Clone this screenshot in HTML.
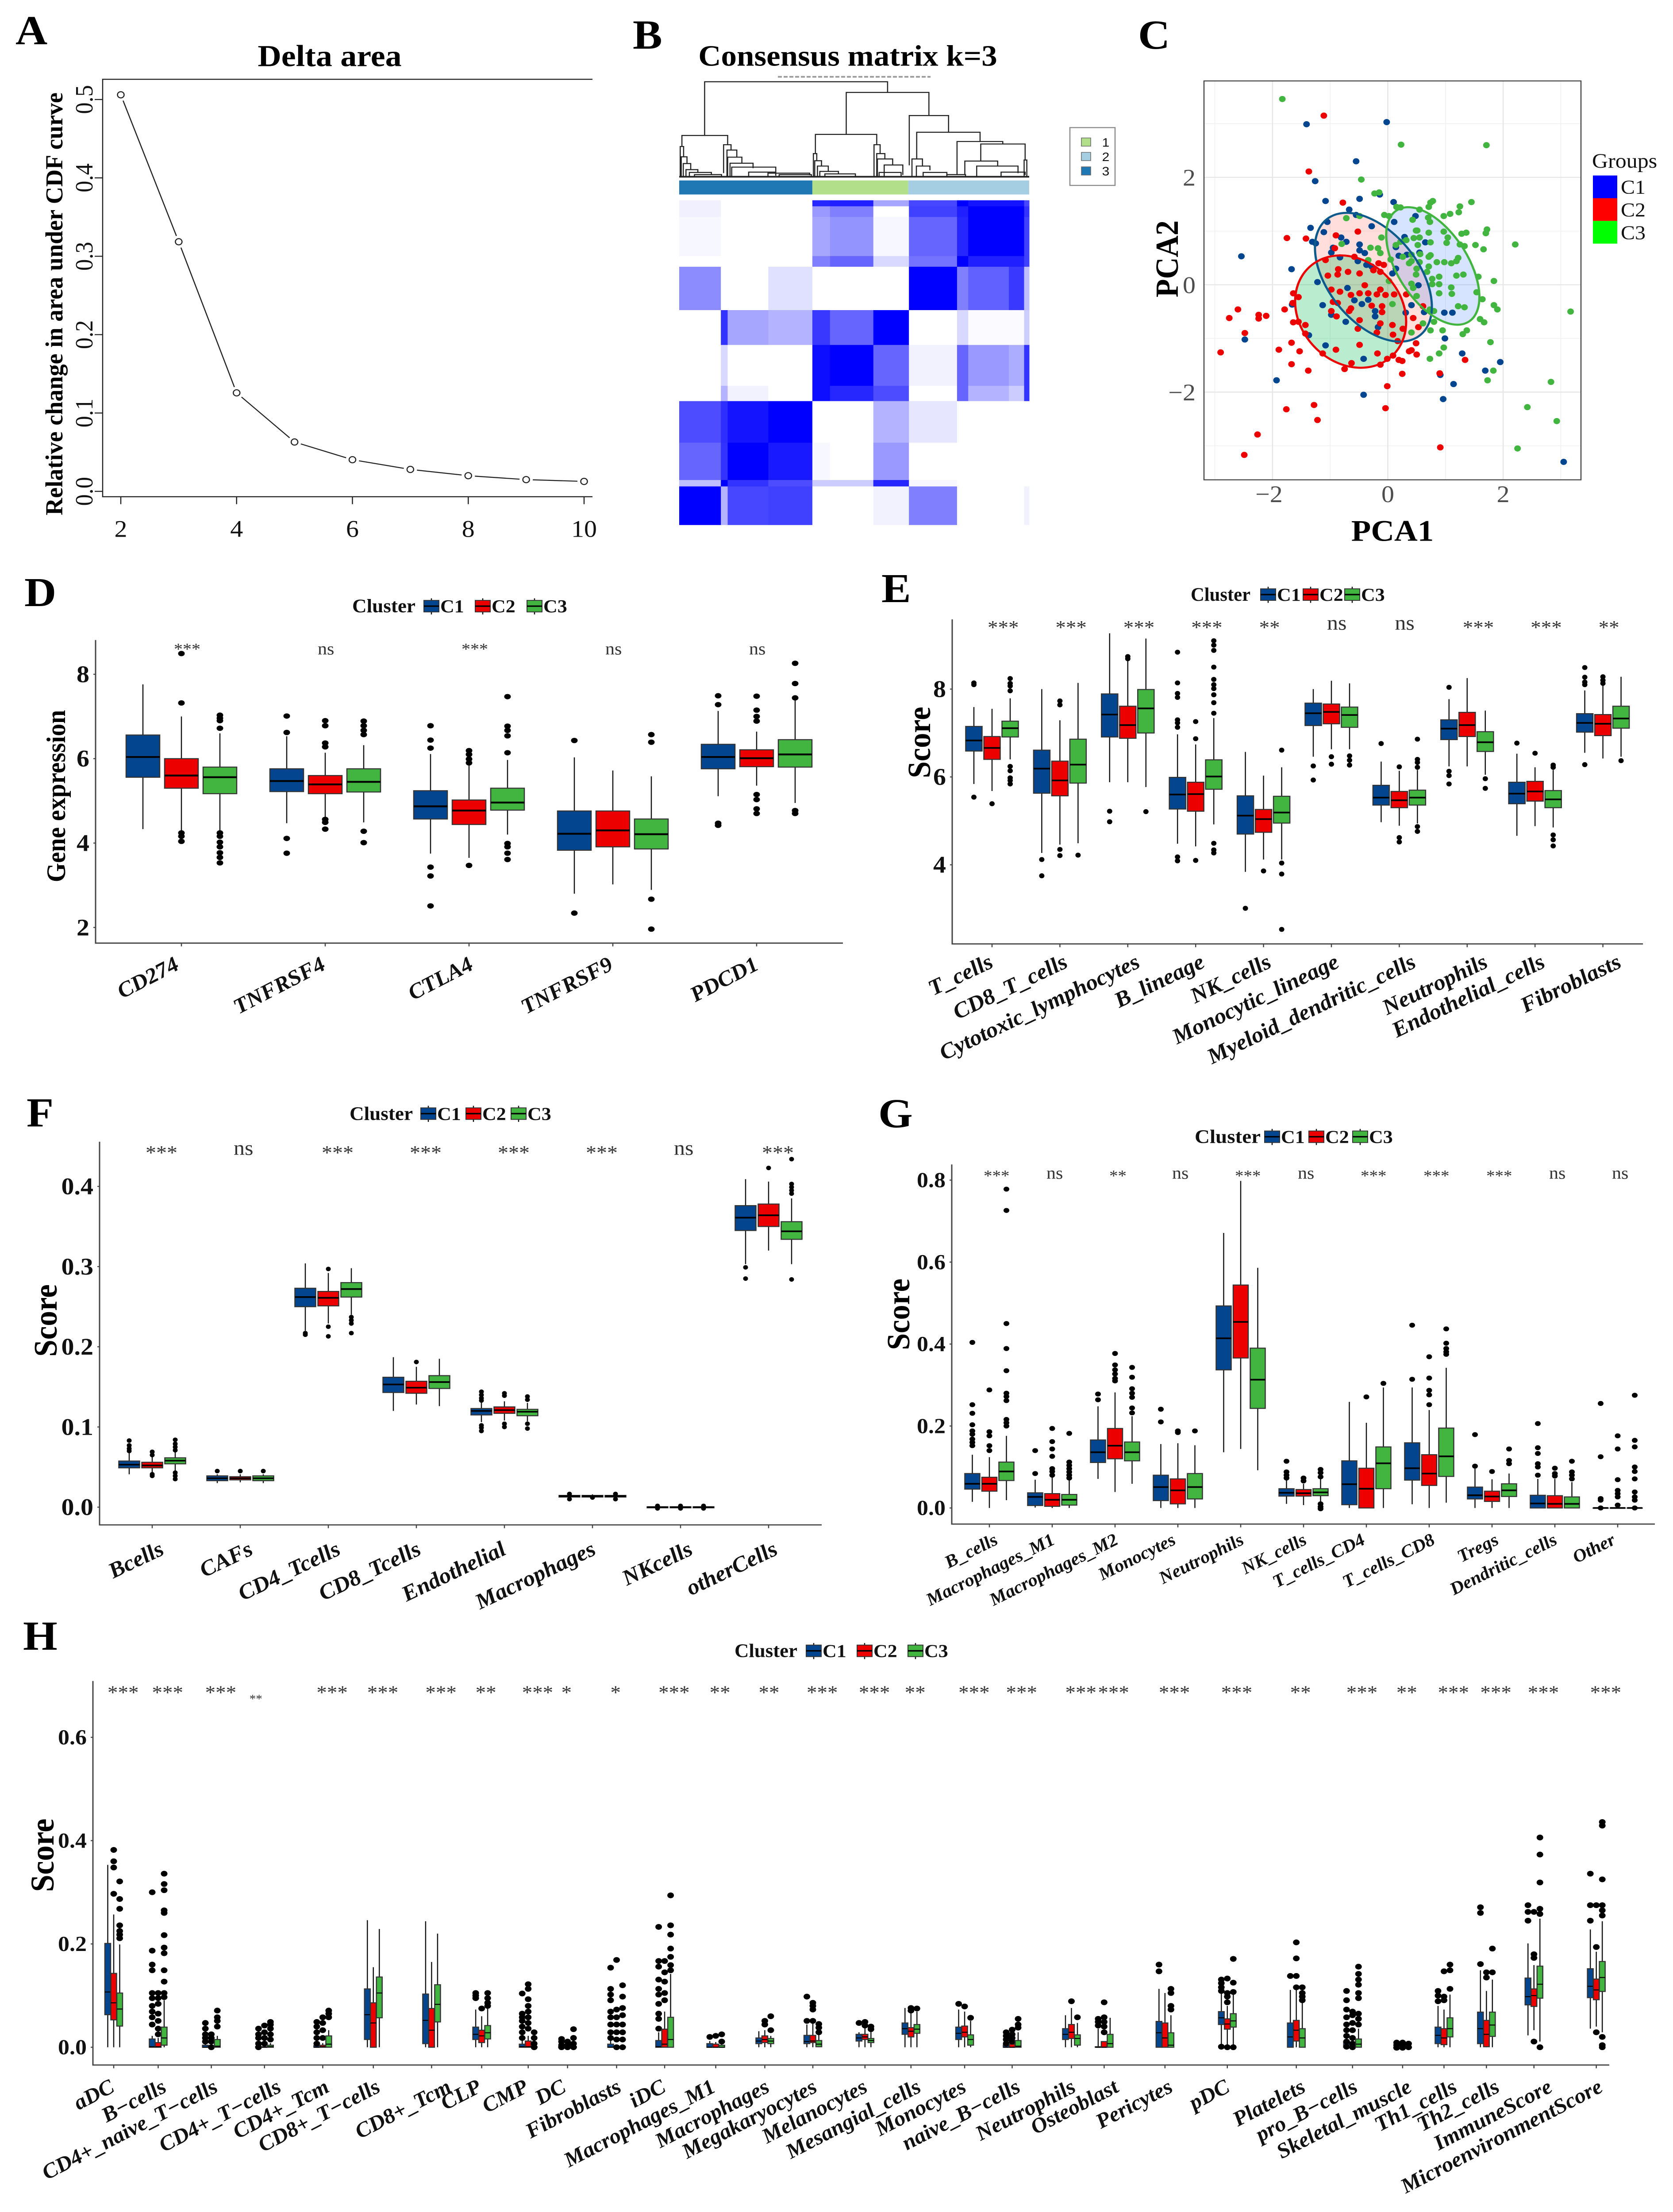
<!DOCTYPE html>
<html lang="en">
<head>
<meta charset="utf-8">
<title>Consensus clustering and immune infiltration figure</title>
<style>
html,body{margin:0;padding:0;background:#fff}
svg{display:block}
text{font-family:"Liberation Serif",serif}
.lab{font-weight:bold;font-size:100px;fill:#000}
.ttl{font-weight:bold;fill:#000}
</style>
</head>
<body>
<svg id="figure" xmlns="http://www.w3.org/2000/svg" width="3781" height="5357" viewBox="0 0 3781 5357" preserveAspectRatio="none">
<rect width="3781" height="5357" fill="#fff"/>
<text class="lab" x="35" y="107">A</text>
<text class="lab" x="1430" y="118">B</text>
<text class="lab" x="2572" y="118">C</text>
<text class="lab" x="55" y="1468">D</text>
<text class="lab" x="1992" y="1458">E</text>
<text class="lab" x="60" y="2728">F</text>
<text class="lab" x="1985" y="2730">G</text>
<text class="lab" x="52" y="3995">H</text>

<text class="ttl" x="745" y="160" text-anchor="middle" font-size="74">Delta area</text>
<text class="ttl" transform="translate(141,736) rotate(-90)" text-anchor="middle" font-size="55" textLength="1024" lengthAdjust="spacingAndGlyphs">Relative change in area under CDF curve</text>
<text class="ttl" x="1916" y="159" text-anchor="middle" font-size="71">Consensus matrix k=3</text>
<line x1="1758" y1="186" x2="2103" y2="186" stroke="#999" stroke-width="4" stroke-dasharray="9 4"/>
<text class="ttl" x="3147" y="1310" text-anchor="middle" font-size="73">PCA1</text>
<text class="ttl" transform="translate(2662,627) rotate(-90)" text-anchor="middle" font-size="73">PCA2</text>
<text x="3598" y="406" font-size="50" fill="#111">Groups</text>

<text class="ttl" transform="translate(147,1928) rotate(-90)" text-anchor="middle" font-size="60">Gene expression</text>
<text class="ttl" transform="translate(2102,1798) rotate(-90)" text-anchor="middle" font-size="73">Score</text>
<text class="ttl" transform="translate(128,3198) rotate(-90)" text-anchor="middle" font-size="74">Score</text>
<text class="ttl" transform="translate(2055,3183) rotate(-90)" text-anchor="middle" font-size="73">Score</text>
<text class="ttl" transform="translate(121,4493) rotate(-90)" text-anchor="middle" font-size="75">Score</text>
</svg>

<script>
/* ---------- Panel A data ---------- */
const deltaK = [2,3,4,5,6,7,8,9,10];
const deltaArea = [0.506,0.3185,0.1257,0.063,0.0404,0.028,0.02,0.015,0.0127];
const deltaXTicks = [2,4,6,8,10];
const deltaYTicks = ['0.0','0.1','0.2','0.3','0.4','0.5'];

/* ---------- Panel B data ---------- */
const matrixColSizes = [123,20,120,130,52,128,105,142,33,120,45,15];
const matrixRowSizes = [17,30,110,30,122,98,115,43,117,105,18,108];
const matrixValues = [
 [.06,0,0,0,.85,.88,.35,.72,1,.92,.92,.72],
 [.06,0,0,0,.4,.5,0,.75,.88,1,1,.8],
 [.03,0,0,0,.35,.42,.03,.6,.85,1,1,.75],
 [0,0,0,0,.5,.6,.15,.55,1,.88,.88,.75],
 [.45,0,0,.12,0,0,0,1,.5,.62,.78,.25],
 [0,.8,.35,.3,.78,.6,1,0,.15,.02,.02,.2],
 [0,.15,0,0,.95,1,.6,.05,.6,.4,.32,.8],
 [0,.3,.05,0,.95,.85,.7,0,.6,.3,.2,.8],
 [.7,.82,.92,1,0,0,.3,.1,0,0,0,0],
 [.6,.8,1,.9,.03,0,.4,0,0,0,0,0],
 [.25,1,.8,.7,.2,.2,.85,.03,0,0,0,0],
 [1,.3,.72,.75,0,0,.05,.5,0,0,0,.05]
];
const clusterBarSizes = [393,283,357];
const clusterBarColors = ['#1f78b4','#b2df8a','#a6cee3'];
const clusterLegendLabels = ['1','2','3'];
const clusterLegendColors = ['#b2df8a','#a6cee3','#1f78b4'];
/* leaf-left, leaf-right, height, left-child height, right-child height */
const dendroMerges = [
 [75,615,267,116,237],[493,737,237,119,172],[679,795,172,32,125],[701,888,125,50,99],[820,955,99,7,92],[890,1021,92,44,47],
 [8,143,116,85,90],[3,13,85,0,56],[6,23,56,0,37],[12,34,37,0,20],[20,55,20,0,12],[30,95,12,0,6],[45,125,6,0,0],
 [131,153,90,10,75],[141,170,75,0,55],[143,185,55,0,38],[150,218,38,0,24],[155,285,27,0,12],[205,285,13,0,3],[262,385,10,0,4],[295,390,6,0,0],
 [402,583,119,65,90],[396,406,65,0,45],[400,420,45,0,30],[408,440,30,0,15],[415,470,15,0,8],[430,520,8,0,0],
 [575,593,90,0,65],[583,607,65,0,50],[585,630,50,0,33],[605,660,33,0,5],[590,655,12,0,0],
 [687,718,50,0,30],[700,740,30,0,18],[720,790,12,0,3],[843,940,44,6,30],[878,1000,30,0,10],[950,1021,13,0,5],[1018,1026,47,0,0],[790,845,6,0,0]
];

/* ---------- Panel C data (PCA units) ---------- */
const pcaGroupC1 = [[-1.41,2.99],[-.02,3.03],[-.55,2.3],[-1.26,1.93],[-1.08,1.56],[-.49,1.6],[-.14,1.68],[.1,1.54],[-.67,1.4],[-.55,1.3],[.48,1.28],[-1.05,1.17],[.11,1.17],[-1.34,1.06],[-.28,1.09],[-1.11,.98],[-1.31,.8],[-1.25,.77],[-.81,.88],[-.72,.8],[-.95,.69],[-.98,.6],[-.83,.51],[-.49,.75],[-.49,.64],[-.4,.59],[-.52,.44],[-.37,.37],[-.28,.34],[-2.54,.53],[-1.67,.29],[.29,.89],[.14,.7],[.19,.54],[.33,.56],[.65,.79],[.55,.6],[.14,.3],[.08,.21],[-1.22,.05],[-.7,-.06],[-.13,-.09],[-.58,-.29],[-.45,-.36],[-.34,-.28],[-.22,-.49],[-.22,-.59],[-1.13,-.38],[-1.66,-.37],[-.98,-.56],[-.73,-.69],[-.17,-.79],[.31,-.52],[.41,-.38],[.53,-.01],[.63,-.51],[.98,-.52],[1.12,-.52],[-1.37,-.94],[-2.48,-1.02],[-1.08,-1.13],[.99,-1],[1.29,-1.28],[1.95,-1.44],[1.69,-1.6],[-.42,-1.38],[.91,-1.68],[1.14,-1.85],[-1.93,-1.78],[-.42,-2.05],[.96,-2.13],[3.05,-3.3]];
const pcaGroupC2 = [[-1.11,3.15],[-1.37,2.11],[-.78,1.53],[-.52,.99],[-1.75,.87],[-1.42,.86],[-.9,.92],[-.92,.68],[-1.08,.46],[-.58,.52],[-.16,.4],[-.07,.37],[-.86,.29],[-.87,.19],[-1.04,.17],[-.69,.24],[-.49,.21],[-.25,.27],[-.13,.24],[-.98,-.09],[-.83,-.13],[-.64,-.19],[-.49,-.16],[-.4,-.01],[-.34,-.16],[-.19,-.18],[-.04,-.19],[.11,-.18],[-.13,-.09],[.32,-.18],[-.95,-.32],[-.87,-.34],[-.64,-.44],[-.28,-.39],[-.1,-.4],[-.1,-.51],[-.98,-.49],[-.89,-.59],[-.67,-.49],[-.49,-.66],[-.52,-.82],[-.19,-.89],[-.13,-.72],[.08,-.75],[.26,-.82],[.09,-.93],[.44,-.62],[.53,-.79],[.61,-.4],[-1.64,-.16],[-1.55,-.23],[-1.65,-.34],[-1.79,-.46],[-2.6,-.46],[-2.75,-.62],[-2.24,-.56],[-2.24,-.63],[-2.11,-.58],[-1.64,-.7],[-1.55,-.69],[-1.43,-.75],[-2.48,-.9],[-1.43,-.91],[-2.9,-1.26],[-1.67,-1.08],[-1.89,-1.21],[-1.53,-1.24],[-1.13,-1.28],[-.9,-1.21],[-1.67,-1.48],[-1.38,-1.6],[-.75,-1.57],[-.63,-1.46],[-.49,-1.12],[-.18,-1.28],[-.13,-1.49],[-.01,-1.38],[.09,-1.32],[.17,-1.05],[.49,-1.09],[.41,-1.22],[.5,-1.3],[.37,-1.24],[.19,-1.4],[.25,-1.42],[1.34,-1.4],[.25,-1.66],[.9,-1.65],[-.01,-1.89],[-1.28,-2.24],[-1.76,-2.32],[-.04,-2.3],[-1.22,-2.52],[-2.26,-2.79],[.91,-3.03],[-2.49,-3.17]];
const pcaGroupC3 = [[-1.83,3.46],[.23,2.61],[1.71,2.6],[-.46,1.96],[-.23,1.7],[-.15,1.72],[.15,1.45],[.22,1.44],[.71,1.45],[.74,1.53],[.78,1.56],[1.45,1.54],[1.25,1.46],[1.23,1.35],[.55,1.4],[-.06,1.3],[.02,1.28],[.97,1.28],[1.08,1.32],[-.72,1.24],[-.49,1.28],[.43,1.21],[.7,1.25],[.73,1.17],[1.72,1.03],[1.7,.96],[1.28,.95],[1.36,.97],[.97,.99],[1.04,.88],[1.02,.78],[.49,1.01],[.51,1.01],[.45,.87],[.55,.88],[.71,.97],[-.11,.88],[.32,.83],[.22,.8],[.14,.74],[.52,.74],[.74,.79],[1.25,.75],[1.33,.72],[1.52,.74],[1.66,.66],[2.21,.75],[-.3,.69],[-.13,.59],[-.17,.68],[-.8,.76],[.26,.52],[.41,.56],[.56,.57],[.71,.52],[.74,.55],[1.22,.5],[1.19,.44],[1.1,.4],[.98,.42],[.85,.42],[.37,.4],[.41,.44],[.55,.42],[-.34,.46],[.05,.47],[.71,.34],[.5,.3],[.49,.19],[.68,.24],[.77,.11],[.89,.15],[1.19,.17],[1.31,.19],[1.57,.15],[.02,.07],[.41,.02],[.44,-.06],[.77,.01],[.89,.01],[1.1,-.05],[1.84,.07],[1.54,-.14],[1.11,-.17],[.5,-.21],[.89,-.16],[.08,-.36],[1.64,-.27],[1.84,-.38],[1.9,-.46],[.73,-.46],[.8,-.49],[1.22,-.4],[1.33,-.42],[1.6,-.64],[1.67,-.7],[.8,-.69],[.61,-.72],[.74,-.85],[.95,-.85],[.41,-.89],[1.37,-.85],[1.3,-.92],[1.78,-1.07],[.97,-1.17],[.89,-1.28],[.73,-1.38],[1.83,-1.6],[1.73,-1.78],[3.17,-.5],[2.83,-1.81],[2.42,-2.28],[2.93,-2.54],[2.25,-3.05]];
/* centre x, centre y, semi-major, semi-minor, angle in degrees */
const pcaEllipseC1 = [-.25,.14,1.35,.8,-55];
const pcaEllipseC2 = [-.645,-.5,1.1,.9,-57];
const pcaEllipseC3 = [.78,.35,1.21,.62,-60];
const pcaMajorTicks = [-2,0,2];
const pcaMinorTicks = [-3,-1,1,3];
const pcaLegendLabels = ['C1','C2','C3'];
const pcaLegendColors = ['#0000ff','#ff0000','#00ff00'];

/* ---------- Panel D data: each box [low, q1, median, q3, high] ---------- */
const dCategories = ['CD274','TNFRSF4','CTLA4','TNFRSF9','PDCD1'];
const dSignif = ['***','ns','***','ns','ns'];
const dYTicks = [2,4,6,8];
const dBoxes = [
 [[4.33,5.56,6.04,6.56,7.76],[4.3,5.3,5.6,6,7],[4.3,5.17,5.56,5.8,6.6]],
 [[4.47,5.22,5.47,5.76,6.53],[4.6,5.17,5.39,5.6,6.14],[4.49,5.21,5.45,5.76,6.32]],
 [[3.75,4.57,4.87,5.24,6.11],[3.65,4.44,4.77,5.02,5.9],[4.2,4.78,4.96,5.3,5.97]],
 [[2.8,3.83,4.22,4.76,6.03],[3.02,3.91,4.3,4.76,5.72],[2.89,3.86,4.21,4.57,5.58]],
 [[5.11,5.76,6.04,6.34,7.13],[5.36,5.81,6.01,6.21,6.64],[4.95,5.8,6.1,6.45,7.38]]
];
const dOutliers = [
 [[],[8.49,7.32,4.24,4.16,4.04],[7.03,6.96,6.9,6.72,4.24,4.16,4.02,3.91,3.77,3.66,3.53]],
 [[7.01,6.62,4.11,3.76],[6.9,6.78,6.37,6.28,4.56,4.49,4.33],[6.89,6.78,6.67,6.57,4.28,4.01]],
 [[6.78,6.44,6.25,3.43,3.22,2.51],[6.19,6.1,5.99,5.9,3.47],[7.47,6.77,6.67,6.54,6.14,3.99,3.91,3.76,3.61]],
 [[6.43,2.34],[],[6.57,6.39,2.67,1.96]],
 [[7.49,7.28,4.47,4.42],[7.48,7.15,7,6.89,5.15,5.03,4.81,4.7],[8.26,7.78,7.44,4.77,4.7]]
];

/* ---------- Panel E data ---------- */
const eCategories = ['T_cells','CD8_T_cells','Cytotoxic_lymphocytes','B_lineage','NK_cells','Monocytic_lineage','Myeloid_dendritic_cells','Neutrophils','Endothelial_cells','Fibroblasts'];
const eSignif = ['***','***','***','***','**','ns','ns','***','***','**'];
const eYTicks = [4,6,8];
const eBoxes = [
 [[5.84,6.59,6.83,7.15,7.59],[5.68,6.4,6.66,6.92,7.55],[6.4,6.91,7.11,7.27,7.79]],
 [[4.27,5.63,6.19,6.61,8],[4.46,5.57,5.92,6.36,7.29],[4.49,5.86,6.28,6.86,8.14]],
 [[5.88,6.91,7.42,7.89,9.27],[5.88,6.88,7.18,7.61,8.65],[5.77,7,7.56,7.99,9.15]],
 [[4.48,5.27,5.6,5.99,6.97],[4.42,5.22,5.61,5.88,6.74],[4.92,5.72,6.01,6.39,7.34]],
 [[3.84,4.7,5.12,5.57,6.57],[4.12,4.74,5.04,5.26,6.03],[4.12,4.95,5.19,5.56,6.22]],
 [[6.46,7.17,7.45,7.68,8],[6.63,7.21,7.48,7.66,8.19],[6.63,7.13,7.41,7.59,8.13]],
 [[4.97,5.36,5.53,5.81,6.35],[4.89,5.3,5.47,5.67,6.14],[4.94,5.36,5.53,5.7,6.16]],
 [[6.24,6.85,7.1,7.3,7.77],[6.24,6.92,7.18,7.47,8.25],[6.05,6.58,6.79,7.03,7.51]],
 [[4.66,5.39,5.62,5.88,6.53],[4.88,5.45,5.67,5.9,6.22],[4.85,5.3,5.49,5.69,6.16]],
 [[6.55,7.02,7.23,7.44,7.97],[6.42,6.94,7.21,7.42,8.09],[6.46,7.11,7.33,7.61,8.28]]
];
const eOutliers = [
 [[8.14,8.1,5.54],[5.39],[8.24,8.13,8.07,7.96,6.24,6.14,5.98,5.92,5.84]],
 [[4.12,3.75],[7.73,7.64,4.35,4.21],[4.22]],
 [[5.22,4.98],[8.74,8.69],[5.21]],
 [[8.84,8.14,7.9,7.81,7.3,7.23,7.13,4.18,4.09],[7.26,6.87,4.1],[9.1,9,8.88,8.5,8.22,8.1,8.01,7.87,7.69,7.45,4.49,4.34,4.27]],
 [[3.01],[3.86],[6.61,4.04,3.79,2.53]],
 [[6.25,5.93],[6.46,6.29],[6.48,6.38,6.27]],
 [[6.76],[6.23,4.62,4.52],[6.86,6.4,6.33,6.22,4.87,4.76]],
 [[8.04,6.13,6.03,5.84],[],[5.96,5.74]],
 [[6.77],[6.54],[6.27,6.22,4.68,4.57,4.43]],
 [[8.49,8.27,8.16,8.1,6.28],[8.28,8.2,8.13],[6.37]]
];

/* ---------- Panel F data ---------- */
const fCategories = ['Bcells','CAFs','CD4_Tcells','CD8_Tcells','Endothelial','Macrophages','NKcells','otherCells'];
const fSignif = ['***','ns','***','***','***','***','ns','***'];
const fYTicks = ['0.0','0.1','0.2','0.3','0.4'];
const fBoxes = [
 [[.041,.049,.053,.0575,.069],[.043,.049,.052,.056,.063],[.045,.054,.058,.0615,.069]],
 [[.03,.033,.036,.039,.041],[.031,.034,.036,.038,.041],[.03,.033,.036,.039,.041]],
 [[.22,.25,.262,.273,.304],[.229,.251,.261,.269,.292],[.24,.262,.272,.28,.298]],
 [[.12,.143,.153,.162,.187],[.128,.142,.149,.157,.175],[.126,.148,.156,.164,.185]],
 [[.106,.115,.12,.123,.132],[.108,.117,.121,.125,.132],[.107,.114,.119,.122,.13]],
 [[.012,.0126,.0138,.0146,.016],[.012,.0126,.0138,.0146,.016],[.012,.0126,.0138,.0146,.016]],
 [[-.001,-.0008,0,.0004,.001],[-.001,-.0008,0,.0004,.001],[-.001,-.0008,0,.0004,.001]],
 [[.303,.345,.361,.376,.409],[.32,.35,.364,.378,.406],[.303,.334,.344,.356,.385]]
];
const fOutliers = [
 [[.083,.077,.073,.07],[.069,.065,.041,.039],[.084,.079,.075,.071,.043,.039,.035]],
 [[.045],[.045],[.045]],
 [[.217,.215],[.297,.225,.213],[.237,.233,.229,.217]],
 [[],[.181],[]],
 [[.144,.14,.136,.133,.102,.099,.095],[.142,.139,.104,.1],[.138,.134,.104,.098]],
 [[.0165,.01],[.012],[.0165,.01]],
 [[.0016,-.0016],[.0016,-.0016],[.0016,-.0016]],
 [[.299,.285],[.423],[.434,.403,.399,.395,.391,.284]]
];

/* ---------- Panel G data ---------- */
const gCategories = ['B_cells','Macrophages_M1','Macrophages_M2','Monocytes','Neutrophils','NK_cells','T_cells_CD4','T_cells_CD8','Tregs','Dendritic_cells','Other'];
const gSignif = ['***','ns','**','ns','***','ns','***','***','***','ns','ns'];
const gYTicks = ['0.0','0.2','0.4','0.6','0.8'];
const gBoxes = [
 [[.015,.046,.059,.084,.13],[0,.041,.059,.075,.124],[.019,.067,.089,.112,.176]],
 [[.001,.006,.027,.037,.069],[0,.004,.02,.035,.08],[0,.007,.02,.033,.071]],
 [[.071,.111,.136,.166,.248],[.039,.12,.152,.194,.282],[.059,.115,.136,.161,.224]],
 [[0,.018,.051,.08,.156],[0,.01,.043,.071,.158],[0,.022,.051,.084,.153]],
 [[.136,.337,.414,.493,.671],[.144,.366,.454,.544,.798],[.092,.243,.313,.39,.586]],
 [[.01,.029,.037,.047,.071],[.007,.029,.036,.045,.059],[.015,.03,.038,.047,.071]],
 [[0,.008,.058,.115,.259],[0,0,.047,.097,.208],[0,.047,.109,.149,.294]],
 [[.009,.068,.097,.159,.294],[0,.055,.084,.13,.239],[.013,.077,.126,.195,.342]],
 [[0,.022,.031,.051,.096],[0,.016,.028,.041,.07],[0,.028,.043,.059,.084]],
 [[0,0,.011,.031,.071],[0,0,.01,.03,.071],[0,0,.01,.027,.063]],
 [[0,0,0,0,0],[0,0,0,0,0],[0,0,0,0,0]]
];
const gOutliers = [
 [[.404,.252,.231,.203,.188,.18,.168,.16,.152],[.288,.186,.176,.152,.14],[.778,.726,.45,.389,.335,.28,.272,.262,.216,.208,.2]],
 [[.14,.084],[.194,.162,.144,.126,.096,.089,.08],[.182,.112,.104,.096,.088,.08,.073]],
 [[.278,.264],[.377,.349,.337,.327,.316,.31],[.343,.319,.291,.28,.27,.244,.232]],
 [[.241,.21],[.188,.184],[.188]],
 [[],[],[]],
 [[.114,.088,.08,.073],[.073,.066],[.094,.086,.076,.01,.003,-.002]],
 [[],[.271],[.304]],
 [[.446,.314],[.369,.317,.287,.276,.252],[.437,.402,.389,.381,.375]],
 [[.179,.102],[.089],[.144,.116,.108]],
 [[.206,.147,.133,.108,.1,.08],[.097,.084,.078],[.114,.088,.08,.071]],
 [[.255,.125,.023,.019,0],[.176,.144,.069,.043,.035,.027,.007],[.275,.165,.149,.1,.089,.071,.039,.027,.019,0]]
];

/* ---------- Panel H data ---------- */
const hCategories = ['aDC','B\u2212cells','CD4+_naive_T\u2212cells','CD4+_T\u2212cells','CD4+_Tcm','CD8+_T\u2212cells','CD8+_Tcm','CLP','CMP','DC','Fibroblasts','iDC','Macrophages_M1','Macrophages','Megakaryocytes','Melanocytes','Mesangial_cells','Monocytes','naive_B\u2212cells','Neutrophils','Osteoblast','Pericytes','pDC','Platelets','pro_B\u2212cells','Skeletal_muscle','Th1_cells','Th2_cells','ImmuneScore','MicroenvironmentScore'];
const hCategoryGaps = [.87,1.04,1.04,1.14,.99,1.14,.98,.91,.77,.96,.94,1,.96,.94,1.02,.9,1.05,.93,1.16,.64,1.19,1.22,1.35,1.1,.98,.81,.83,.93,1.22];
const hSignif = ['***','***','***','**','***','***','***','**','***','*','*','***','**','**','***','***','**','***','***','***','***','***','***','**','***','**','***','***','***','***'];
const hYTicks = ['0.0','0.2','0.4','0.6'];
const hBoxes = [
 [[0,.063,.107,.201,.353],[0,.053,.086,.143,.257],[0,.041,.074,.105,.199]],
 [[0,0,.001,.016,.022],[0,0,.001,.009,.018],[0,.004,.018,.039,.091]],
 [[0,0,0,.004,.011],[0,0,0,.002,.008],[0,0,.002,.015,.022]],
 [[0,0,0,.001,.002],[0,0,0,.001,.002],[0,0,.001,.004,.008]],
 [[0,0,0,.003,.006],[0,0,.001,.004,.008],[0,0,.006,.022,.033]],
 [[0,.015,.063,.113,.246],[0,0,.047,.086,.155],[0,.057,.105,.136,.229]],
 [[0,.007,.052,.103,.244],[0,0,.033,.075,.165],[0,.049,.083,.121,.22]],
 [[0,.015,.025,.039,.073],[0,.009,.022,.033,.06],[0,.016,.028,.042,.076]],
 [[0,0,.001,.006,.015],[0,0,.001,.012,.022],[0,0,.001,.001,.003]],
 [[0,0,0,.001,.002],[0,0,0,.001,.002],[0,0,0,.001,.002]],
 [[0,0,0,.006,.015],[0,0,0,.001,.003],[0,0,0,.001,.003]],
 [[0,0,.001,.013,.029],[0,0,.006,.035,.069],[0,0,.015,.058,.142]],
 [[0,0,0,.007,.012],[0,0,0,.006,.01],[0,0,0,.004,.008]],
 [[0,.007,.012,.018,.031],[0,.009,.015,.022,.033],[0,.007,.012,.017,.022]],
 [[0,.007,.011,.023,.044],[0,.009,.012,.023,.051],[0,.001,.006,.013,.033]],
 [[0,.012,.018,.025,.029],[0,.015,.02,.025,.04],[0,.009,.013,.017,.033]],
 [[0,.025,.036,.047,.076],[0,.02,.031,.038,.069],[0,.027,.035,.044,.069]],
 [[0,.015,.027,.039,.073],[0,.02,.029,.041,.069],[0,.004,.015,.024,.051]],
 [[0,0,0,.004,.008],[0,0,0,.006,.01],[0,0,.002,.013,.029]],
 [[0,.015,.025,.036,.062],[0,.017,.029,.044,.076],[0,.004,.017,.024,.047]],
 [[0,0,0,.001,.036],[0,0,0,.011,.011],[0,0,.007,.025,.057]],
 [[0,0,.028,.05,.113],[0,0,.018,.047,.105],[0,0,.004,.028,.062]],
 [[.004,.044,.057,.069,.105],[.004,.035,.045,.055,.08],[.004,.039,.051,.065,.102]],
 [[0,0,.02,.047,.111],[0,.012,.033,.052,.113],[0,0,.018,.036,.091]],
 [[0,0,.004,.011,.02],[0,0,0,.004,.012],[0,0,.006,.016,.036]],
 [[0,0,0,0,0],[0,0,0,0,0],[0,0,0,0,0]],
 [[0,.007,.023,.039,.08],[0,.005,.018,.036,.073],[0,.02,.036,.057,.102]],
 [[0,.007,.036,.068,.149],[0,.001,.025,.052,.109],[0,.021,.043,.068,.131]],
 [[.023,.082,.098,.134,.201],[.033,.079,.1,.113,.159],[.011,.095,.122,.157,.249]],
 [[.036,.096,.118,.152,.228],[.04,.092,.111,.132,.185],[.029,.108,.135,.166,.244]]
];
const hOutliers = [
 [[],[.382,.36,.348,.297],[.321,.287,.268,.236,.225,.218,.211]],
 [[.3,.187,.16,.149,.105,.095,.08,.069,.058,.044],[.105,.095,.084,.065,.051,.036,.025],[.336,.316,.304,.265,.26,.217,.193,.182,.149,.127,.105,.097]],
 [[.047,.036,.025,.018,.011],[.025,.018,.011,0],[.071,.058,.051,.04]],
 [[.036,.025,.018,.007,0],[.042,.029,.018,.007],[.049,.044,.036,.025,.015]],
 [[.049,.04,.029,.018,.007],[.058,.047,.033,.018],[.071,.065,.058]],
 [[],[],[]],
 [[],[],[]],
 [[.105,.1,.095],[.075],[.105,.095,.086,.08]],
 [[.104,.065,.058,.051,.04,.029,.018],[.122,.113,.093,.08,.069,.058,.047,.036],[.029,.018,.007,0]],
 [[.016,.011,.004,0],[.011,.004,0],[.035,.018,.007,0]],
 [[.154,.113,.102,.091,.069,.058,.044,.029,.018],[.169,.073,.058,.044,.029,.015,0],[.12,.098,.076,.062,.044,.029,.015,0]],
 [[.233,.167,.156,.131,.113,.102,.084,.065,.055,.036],[.167,.145,.127,.105,.091],[.294,.236,.218,.191,.175,.159,.149]],
 [[.02],[.022],[.025,.011]],
 [[],[.051,.044],[.06,.033]],
 [[.098,.051],[.086,.08,.073,.051],[.045,.038,.029]],
 [[.047],[.049,.042],[.04,.035]],
 [[],[.076,.071],[.075]],
 [[.084],[.079],[.057]],
 [[.029,.022,.015,.007],[.034,.025,.018,.011],[.055,.044,.038]],
 [[],[.089],[.058]],
 [[.055,.049,.042],[.087,.058,.049,.04,.029],[]],
 [[.16,.147],[],[.113,.105,.08,.073]],
 [[.131,.124,.116,.109,.001],[.133,.105,.098,.087,0],[.171,.125,.107,0]],
 [[.138],[.203,.172,.138,.116],[.116,.105,.098,.091]],
 [[.109,.091,.073,.058,.044,.033,.022,.011,.001],[.069,.062,.047,.033,.018,.007,0],[.156,.142,.131,.121,.105,.095,.065,.055,.044]],
 [[.009,.004,-.001],[.009,.004,-.001],[.007,0]],
 [[.109,.1,.089],[.147,.098,.091],[.16,.149,.113]],
 [[.271,.26,.161],[.145,.135],[.191,.145]],
 [[.275,.262,.245],[.262,.18,.173,.011],[.406,.373,.319,.268,.258,0]],
 [[.336,.275,.245],[.275,.194,.029],[.436,.429,.325,.275,.265,.255,.02,.004,0]]
];

/* ---------- Shared ---------- */
const clusterNames = ['C1','C2','C3'];
const clusterColors = ['#03468f','#ed0000','#42b540'];
const NS = 'http://www.w3.org/2000/svg';
const figure = document.getElementById('figure');

/* Keep the whole figure inside the frame if the render viewport is shorter than the nominal page height. */
if (window.innerHeight >= 3000 && window.innerHeight < 5357) {
  figure.setAttribute('height', window.innerHeight);
  document.documentElement.style.overflow = 'hidden';
}

function add(tag, attrs, parent){
  const el = document.createElementNS(NS, tag);
  for (const k in attrs) el.setAttribute(k, attrs[k]);
  (parent || figure).appendChild(el);
  return el;
}
function group(parent){ return add('g', {}, parent); }

/* ---------- Panel A ---------- */
(function(){
  const g = group();
  
  
  const xOf = k => 273 + (k - 2) * (1320 - 273) / 8;
  const yOf = v => 1190 - v * (1190 - 241) / 0.5;
  const frame = add('path', {d:'M1339 192H232V1203H1339', fill:'none', stroke:'#222', 'stroke-width':2.5}, g);
  
  
  deltaXTicks.forEach(k => {
    const tick = add('line', {x1:xOf(k), x2:xOf(k), y1:1203, y2:1221, stroke:'#222', 'stroke-width':2.5}, g);
    
    
    const lab = add('text', {x:xOf(k), y:1300, 'text-anchor':'middle', 'font-size':58, fill:'#111'}, g);
    
    
    lab.textContent = k;
  });
  deltaYTicks.forEach(s => {
    const v = parseFloat(s);
    const tick = add('line', {x1:214, x2:232, y1:yOf(v), y2:yOf(v), stroke:'#222', 'stroke-width':2.5}, g);
    
    
    const lab = add('text', {transform:'translate(209,' + yOf(v) + ') rotate(-90)', 'text-anchor':'middle', 'font-size':56, fill:'#111'}, g);
    
    
    lab.textContent = s;
  });
  deltaK.forEach((k, i) => {
    if (i < deltaK.length - 1) {
      const x1 = xOf(k), y1 = yOf(deltaArea[i]), x2 = xOf(deltaK[i+1]), y2 = yOf(deltaArea[i+1]);
      const len = Math.hypot(x2-x1, y2-y1), gap = Math.min(15, len/3);
      const ux = (x2-x1)/len, uy = (y2-y1)/len;
      const seg = add('line', {x1:x1+ux*gap, y1:y1+uy*gap, x2:x2-ux*gap, y2:y2-uy*gap, stroke:'#222', 'stroke-width':2.5}, g);
      
      
    }
    const pt = add('circle', {cx:xOf(k), cy:yOf(deltaArea[i]), r:7.5, fill:'#fff', stroke:'#222', 'stroke-width':2.5}, g);
    
    
  });
})();

/* ---------- Panel B ---------- */
(function(){
  const g = group();
  
  
  const L = 1535, R = 2326, T = 485, B = 1271;
  const cTotal = matrixColSizes.reduce((a,b)=>a+b,0), rTotal = matrixRowSizes.reduce((a,b)=>a+b,0);
  const colX = n => L + n * (R - L) / cTotal;
  const rowY = n => T + n * (B - T) / rTotal;
  let ry = 0;
  matrixValues.forEach((row, r) => {
    let cx = 0;
    row.forEach((v, c) => {
      const shade = Math.round(255 * (1 - v));
      const cell = add('rect', {x:colX(cx), y:rowY(ry), width:colX(cx+matrixColSizes[c])-colX(cx)+.5, height:rowY(ry+matrixRowSizes[r])-rowY(ry)+.5, fill:'rgb('+shade+','+shade+',255)'}, g);
      
      
      cx += matrixColSizes[c];
    });
    ry += matrixRowSizes[r];
  });
  /* annotation bar */
  const barTotal = clusterBarSizes.reduce((a,b)=>a+b,0);
  let bx = 0;
  clusterBarSizes.forEach((s, i) => {
    const seg = add('rect', {x:L + bx*(R-L)/barTotal, y:437, width:s*(R-L)/barTotal, height:34, fill:clusterBarColors[i]}, g);
    
    
    bx += s;
  });
  /* dendrogram */
  const leafX = n => L + n * (R - L) / 1033;
  const hY = h => 428 - h * (428 - 198) / 267;
  dendroMerges.forEach(m => {
    const link = add('path', {d:'M'+leafX(m[0])+' '+hY(m[3])+'V'+hY(m[2])+'H'+leafX(m[1])+'V'+hY(m[4]), fill:'none', stroke:'#222', 'stroke-width':2.5}, g);
    
    
  });
  const base = add('line', {x1:L, x2:R, y1:hY(0), y2:hY(0), stroke:'#222', 'stroke-width':4}, g);
  
  
  /* legend */
  const box = add('rect', {x:2418, y:309, width:102, height:140, fill:'#fff', stroke:'#888', 'stroke-width':2.5}, g);
  
  
  clusterLegendLabels.forEach((s, i) => {
    const y = 344 + i * 35;
    const sw = add('rect', {x:2444, y:y-10, width:21, height:20, fill:clusterLegendColors[i], stroke:'#666', 'stroke-width':1.5}, g);
    
    
    const t = add('text', {x:2499, y:y+11, 'text-anchor':'middle', 'font-size':30, style:'font-family:"Liberation Sans",sans-serif', fill:'#111'}, g);
    
    
    t.textContent = s;
  });
})();

/* ---------- Panel C ---------- */
(function(){
  const g = group();
  
  
  const L = 2721, R = 3573, T = 196, B = 1162;
  const xOf = u => 3136.5 + u * 130.3;
  const yOf = v => 689.6 - v * 130;
  pcaMinorTicks.forEach(t => {
    const a = add('line', {x1:xOf(t), x2:xOf(t), y1:T, y2:B, stroke:'#efefef', 'stroke-width':1.5}, g);
    
    
    const b = add('line', {x1:L, x2:R, y1:yOf(t), y2:yOf(t), stroke:'#efefef', 'stroke-width':1.5}, g);
    
    
  });
  pcaMajorTicks.forEach(t => {
    const a = add('line', {x1:xOf(t), x2:xOf(t), y1:T, y2:B, stroke:'#e6e6e6', 'stroke-width':2.5}, g);
    
    
    const b = add('line', {x1:L, x2:R, y1:yOf(t), y2:yOf(t), stroke:'#e6e6e6', 'stroke-width':2.5}, g);
    
    
    const tx = add('text', {x:xOf(t)-(t<0?8:0), y:1216, 'text-anchor':'middle', 'font-size':58, fill:'#4d4d4d'}, g);
    
    
    tx.textContent = String(t).replace('-', '\u2212');
    const ty = add('text', {x:2702, y:yOf(t)+20, 'text-anchor':'end', 'font-size':58, fill:'#4d4d4d'}, g);
    
    
    ty.textContent = String(t).replace('-', '\u2212');
  });
  const ellipses = [[pcaEllipseC1,'rgba(255,60,40,.17)','#0d5a8c'],[pcaEllipseC2,'rgba(0,190,80,.27)','#ed0000'],[pcaEllipseC3,'rgba(70,130,255,.22)','#42b540']];
  ellipses.forEach(e => {
    const p = e[0];
    const el = add('ellipse', {cx:0, cy:0, rx:p[2]*130.2, ry:p[3]*130.2, transform:'translate('+xOf(p[0])+','+yOf(p[1])+') rotate('+(-p[4])+')', fill:e[1], stroke:'none'}, g);
    
    
  });
  const groups = [pcaGroupC1, pcaGroupC2, pcaGroupC3];
  groups.forEach((pts, i) => {
    pts.forEach(p => {
      const c = add('circle', {cx:xOf(p[0]), cy:yOf(p[1]), r:7.5, fill:clusterColors[i]}, g);
      
      
    });
  });
  ellipses.forEach(e => {
    const p = e[0];
    const el = add('ellipse', {cx:0, cy:0, rx:p[2]*130.2, ry:p[3]*130.2, transform:'translate('+xOf(p[0])+','+yOf(p[1])+') rotate('+(-p[4])+')', fill:'none', stroke:e[2], 'stroke-width':5}, g);
    
    
  });
  const frame = add('rect', {x:L, y:T, width:R-L, height:B-T, fill:'none', stroke:'#444', 'stroke-width':2.5}, g);
  
  
  pcaLegendLabels.forEach((s, i) => {
    const sw = add('rect', {x:3600, y:425+i*55, width:55, height:55, fill:pcaLegendColors[i]}, g);
    
    
    const t = add('text', {x:3663, y:469+i*55, 'font-size':48, fill:'#111'}, g);
    
    
    t.textContent = s;
  });
})();

/* ---------- Box-plot panels ---------- */
function drawBoxPanel(cfg, categories, yTicks, boxes, outliers, signif){
  const g = group();
  
  
  const yOf = v => cfg.y0 - v * cfg.yScale;
  let acc = 0;
  const xs = categories.map((c, i) => {
    if (i > 0) acc += cfg.gaps ? cfg.gaps[i-1] : 1;
    return cfg.x0 + acc * cfg.dx;
  });
  /* axes */
  const axes = add('path', {d:'M'+cfg.left+' '+cfg.top+'V'+cfg.bottom+'H'+cfg.right, fill:'none', stroke:'#444', 'stroke-width':3}, g);
  
  
  yTicks.forEach(s => {
    const v = parseFloat(s);
    const tick = add('line', {x1:cfg.left-5, x2:cfg.left, y1:yOf(v), y2:yOf(v), stroke:'#444', 'stroke-width':2.5}, g);
    
    
    const lab = add('text', {x:cfg.left-14, y:yOf(v)+cfg.tickSize*.33, 'text-anchor':'end', 'font-size':cfg.tickSize, 'font-weight':'bold', fill:'#111'}, g);
    
    
    lab.textContent = s;
  });
  categories.forEach((name, i) => {
    const x = xs[i];
    const tick = add('line', {x1:x, x2:x, y1:cfg.bottom, y2:cfg.bottom+8, stroke:'#444', 'stroke-width':2.5}, g);
    
    
    const nudge = cfg.labelNudge ? cfg.labelNudge[i] : 0;
    const lab = add('text', {transform:'translate('+(x+cfg.labelDx+nudge)+','+(cfg.bottom+cfg.labelDy)+') rotate('+(-cfg.labelAngle)+')', 'text-anchor':'end', 'font-size':cfg.labelSize, 'font-weight':'bold', 'font-style':'italic', fill:'#111'}, g);
    
    
    lab.textContent = name;
    /* significance */
    const mark = signif[i];
    const isNs = mark === 'ns';
    const small = cfg.smallSig === i;
    const sig = add('text', {x:x-cfg.sigOffset-(small?20:0), y:(isNs?cfg.nsBase:cfg.starBase)+(small?10:0), 'font-size':small?cfg.starSize*.62:(isNs?cfg.nsSize:cfg.starSize), fill:'#333'}, g);
    
    
    sig.textContent = mark;
    /* boxes */
    boxes[i].forEach((b, j) => {
      const cx = x + (j - 1) * cfg.dodge;
      const hw = cfg.boxWidth / 2;
      const whisk = add('line', {x1:cx, x2:cx, y1:yOf(b[0]), y2:yOf(b[4]), stroke:'#111', 'stroke-width':cfg.whisker}, g);
      
      
      const rect = add('rect', {x:cx-hw, y:yOf(b[3]), width:cfg.boxWidth, height:Math.max(.5, yOf(b[1])-yOf(b[3])), fill:clusterColors[j], stroke:'#333', 'stroke-width':2.5}, g);
      
      
      const med = add('line', {x1:cx-hw, x2:cx+hw, y1:yOf(b[2]), y2:yOf(b[2]), stroke:'#000', 'stroke-width':cfg.medianWidth}, g);
      
      
      outliers[i][j].forEach(v => {
        const o = add('ellipse', {cx:cx, cy:yOf(v), rx:cfg.outRx, ry:cfg.outRy, fill:'#000'}, g);
        
        
      });
    });
  });
  /* legend */
  const lg = group(g);
  
  
  const cl = add('text', {x:cfg.legend.x, y:cfg.legend.y+15, 'font-size':46, 'font-weight':'bold', fill:'#111', textLength:cfg.legend.len, lengthAdjust:'spacingAndGlyphs'}, lg);
  
  
  cl.textContent = 'Cluster';
  clusterNames.forEach((name, j) => {
    const kx = cfg.legend.keys[j];
    const stem = add('line', {x1:kx+17, x2:kx+17, y1:cfg.legend.y-19, y2:cfg.legend.y+20, stroke:'#111', 'stroke-width':2.5}, lg);
    
    
    const key = add('rect', {x:kx, y:cfg.legend.y-14, width:34, height:28, fill:clusterColors[j], stroke:'#333', 'stroke-width':2}, lg);
    
    
    const bar = add('line', {x1:kx, x2:kx+34, y1:cfg.legend.y, y2:cfg.legend.y, stroke:'#000', 'stroke-width':3.5}, lg);
    
    
    const tx = add('text', {x:kx+37, y:cfg.legend.y+15, 'font-size':44, 'font-weight':'bold', fill:'#111'}, lg);
    
    
    tx.textContent = name;
  });
}

drawBoxPanel({left:216,right:1905,top:1550,bottom:2284,y0:2450.5,yScale:102.2,x0:410,dx:325,
  dodge:87,boxWidth:76,whisker:2.5,medianWidth:4.5,outRx:7.5,outRy:6.5,tickSize:58,labelSize:52,labelDx:4,labelDy:62,labelAngle:29,
  labelNudge:[-6,0,9,0,4],
  sigOffset:17,starBase:1585,nsBase:1585,starSize:40,nsSize:42,
  legend:{x:796,y:1468,len:143,keys:[958,1074,1191]}},dCategories,dYTicks,dBoxes,dOutliers,dSignif);

drawBoxPanel({left:2152,right:3713,top:1500,bottom:2286,y0:2520,yScale:106.4,x0:2242,dx:153.4,
  dodge:41,boxWidth:37,whisker:2.5,medianWidth:4,outRx:6,outRy:6,tickSize:58,labelSize:53,labelDx:6,labelDy:55,labelAngle:27,
  labelNudge:[0,15,25,18,15,15,35,44,20,39],
  sigOffset:10,starBase:1535,nsBase:1525,starSize:47,nsSize:50,
  legend:{x:2691,y:1440,len:135,keys:[2849,2945,3039]}},eCategories,eYTicks,eBoxes,eOutliers,eSignif);

drawBoxPanel({left:225,right:1857,top:2765,bottom:3693,y0:3650,yScale:1942,x0:344,dx:199,
  dodge:52,boxWidth:47,whisker:2.5,medianWidth:4,outRx:5.5,outRy:5.5,tickSize:58,labelSize:53,labelDx:4,labelDy:70,labelAngle:27,
  labelNudge:[26,28,27,10,3,7,27,20],
  sigOffset:15,starBase:2807,nsBase:2797,starSize:48,nsSize:50,
  legend:{x:790,y:2697,len:143,keys:[951,1053,1155]}},fCategories,fYTicks,fBoxes,fOutliers,fSignif);

drawBoxPanel({left:2151,right:3740,top:2820,bottom:3691,y0:3652,yScale:992.5,x0:2236,dx:142,
  dodge:38.5,boxWidth:34,whisker:2.5,medianWidth:4,outRx:6.5,outRy:6,tickSize:52,labelSize:43,labelDx:2,labelDy:47,labelAngle:28,
  labelNudge:[20,7,8,-4,8,8,-2,14,16,6,-4],
  sigOffset:13,starBase:2860,nsBase:2855,starSize:39,nsSize:42,
  legend:{x:2700,y:2753,len:149,keys:[2858,2958,3057]}},gCategories,gYTicks,gBoxes,gOutliers,gSignif);

drawBoxPanel({left:210,right:3637,top:4071,bottom:5001,y0:4958,yScale:1251,x0:257,dx:115.5,gaps:hCategoryGaps,smallSig:3,
  dodge:13.5,boxWidth:13,whisker:2.5,medianWidth:2.5,outRx:7.5,outRy:7,tickSize:52,labelSize:51,labelDx:11,labelDy:63,labelAngle:29,
  labelNudge:[-6,11,7,30,7,8,37,-8,-7,-11,3,-5,-8,3,2,-2,15,-4,11,2,25,10,-2,13,4,13,22,22,34,7],
  sigOffset:14,starBase:4114,nsBase:4114,starSize:47,nsSize:47,
  legend:{x:1660,y:3998,len:142,keys:[1822,1937,2052]}},hCategories,hYTicks,hBoxes,hOutliers,hSignif);
</script>
</body>
</html>
